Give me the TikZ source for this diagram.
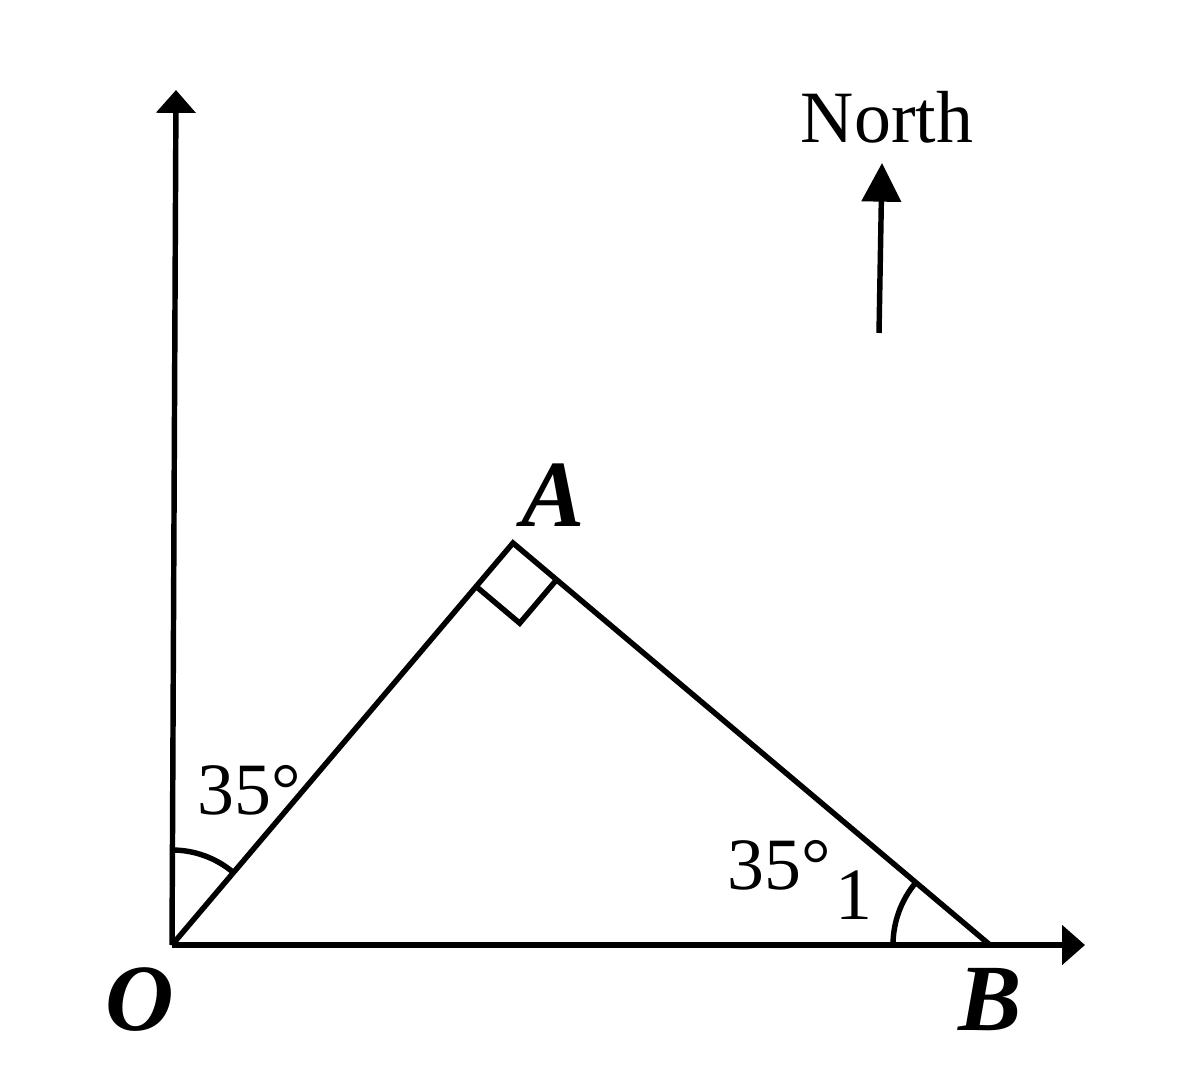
\documentclass[tikz,border=0pt]{standalone}
\usepackage{fontspec}
\setmainfont{Liberation Serif}
\usetikzlibrary{arrows.meta,calc}

\begin{document}
\begin{tikzpicture}[
  line width=1.55pt,
  axis/.style={-{Triangle[width=11pt,length=6.5pt]}},
  northarrow/.style={-{Triangle[width=11pt,length=11pt]}},
  pointlabel/.style={font=\fontsize{27}{30}\selectfont\bfseries\itshape},
  anglelabel/.style={font=\fontsize{21}{24}\selectfont},
]
\useasboundingbox (0,0) rectangle (11.9,10.88);

% vertices
\coordinate (O) at (1.72,1.43);
\coordinate (A) at (5.13,5.45);
\coordinate (B) at (9.90,1.43);
\coordinate (ytop) at (1.76,9.98);
\coordinate (xend) at (10.85,1.43);

% axes
\draw[axis] (O) -- (ytop);
\draw[axis] (O) -- (xend);

% triangle
\draw[line join=miter] (O) -- (A) -- (B);

% right angle at A
\draw[line join=miter] ($(A)!0.57cm!(O)$) -- ($(A)!0.57cm!(O)+(A)!0.57cm!(B)-(A)$) -- ($(A)!0.57cm!(B)$);

% angle arcs
\draw ($(O)+(0,0.95)$) arc[start angle=90, end angle=49.7, radius=0.95];
\draw ($(B)+(-0.97,0)$) arc[start angle=180, end angle=139.9, radius=0.97];

% north arrow
\coordinate (nfoot) at (8.79,7.55);
\coordinate (ntip) at (8.82,9.25);
\draw[northarrow] (nfoot) -- (ntip);
\node[anchor=south, font=\fontsize{21}{24}\selectfont] (north) at (8.87,9.3) {North};

% labels
\node[pointlabel] (lblA) at (5.53,5.93) {A};
\node[pointlabel] (lblO) at (1.40,0.88) {O};
\node[pointlabel] (lblB) at (9.90,0.88) {B};
\node[anchor=west, inner sep=0pt, anglelabel] (angO) at (1.95,2.98) {35°};
\node[anchor=west, inner sep=0pt, anglelabel] (angB) at (7.25,2.23) {35°};
\node[anglelabel, inner sep=0pt] (one) at (8.54,1.93) {1};
\end{tikzpicture}
\end{document}
